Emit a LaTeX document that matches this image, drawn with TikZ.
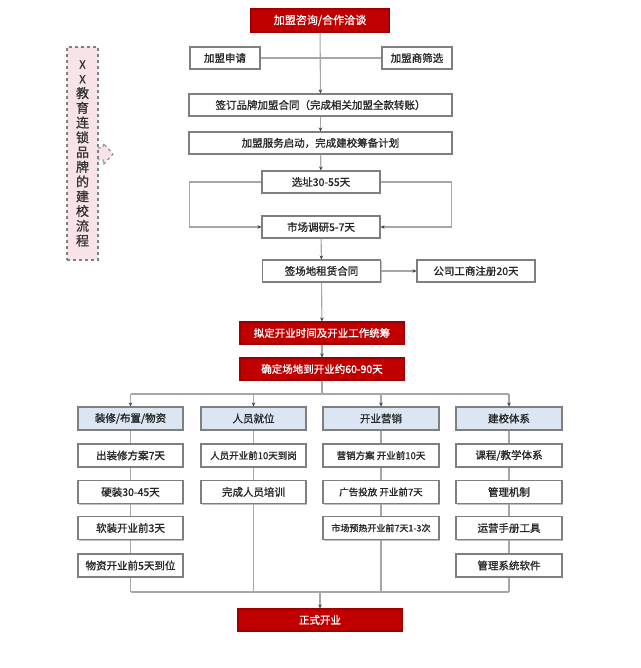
\documentclass[tikz,border=0pt]{standalone}
\usepackage{fontspec}
\setmainfont{Noto Sans CJK SC}[RawFeature={embolden=1.2}]
\usetikzlibrary{arrows.meta,shadows}
\definecolor{bred}{HTML}{C00000}
\definecolor{bredd}{HTML}{9E0000}
\definecolor{bgray}{HTML}{7F7F7F}
\definecolor{lgray}{HTML}{A6A6A6}
\definecolor{cblue}{HTML}{DCE6F2}
\definecolor{spink}{HTML}{F8E4E8}
\tikzset{
  x=1pt,y=-1pt,
  wbox/.style={draw=bgray,line width=1.1pt,fill=white,minimum height=22pt,inner sep=0pt,
     font=\fontsize{10.5}{12}\selectfont,text=black!85,
     drop shadow={shadow xshift=1pt,shadow yshift=-1pt,opacity=0.25,fill=black}},
  rbox/.style={wbox,draw=bredd,fill=bred,text=white},
  cbox/.style={wbox,fill=cblue,minimum height=23pt},
  conn/.style={draw=lgray,line width=1.1pt},
  arr/.style={conn,-{Stealth[length=4pt,width=3.5pt,color=black!75]}},
}
\begin{document}
\begin{tikzpicture}
\useasboundingbox (0,0) rectangle (640,668);
% side box
\draw[draw=bgray,dashed,line width=1pt,fill=spink]
  (98,148) -- (103,148) -- (103,143) -- (113,154) -- (103,165) -- (103,160) -- (98,160);
\node[draw=bgray,dashed,line width=1.1pt,fill=spink,minimum width=31pt,minimum height=213pt,inner sep=0pt,
  align=center,font=\fontsize{13}{14.75}\selectfont,text=black!80] (side) at (82.5,153.5)
  {{\fontsize{11}{14.75}\selectfont X}\\{\fontsize{11}{14.75}\selectfont X}\\教\\育\\连\\锁\\品\\牌\\的\\建\\校\\流\\程};
% top part
\node[rbox,minimum width=138pt,minimum height=23pt,font=\fontsize{11}{13}\selectfont] (top) at (320,20.5) {加盟咨询/合作洽谈};
\node[wbox,minimum width=70pt] (apply) at (225,58) {加盟申请};
\node[wbox,minimum width=70pt] (screen) at (417,58) {加盟商筛选};
\node[wbox,minimum width=263pt] (sign) at (320.5,105) {签订品牌加盟合同（完成相关加盟全款转账）};
\node[wbox,minimum width=263pt] (start) at (320.5,143) {加盟服务启动，完成建校筹备计划};
\node[wbox,minimum width=118pt] (site) at (321,182) {选址30-55天};
\node[wbox,minimum width=118pt] (survey) at (321,227) {市场调研5-7天};
\node[wbox,minimum width=118pt] (lease) at (321.5,271) {签场地租赁合同};
\node[wbox,minimum width=118pt] (reg) at (476,271) {公司工商注册20天};
\node[rbox,minimum width=164pt] (plan) at (322,333) {拟定开业时间及开业工作统筹};
\node[rbox,minimum width=164pt] (confirm) at (322,369) {确定场地到开业约60-90天};
% columns
\node[cbox,minimum width=105pt] (c1) at (130.5,418.5) {装修/布置/物资};
\node[cbox,minimum width=105pt] (c2) at (253.5,418.5) {人员就位};
\node[cbox,minimum width=116pt] (c3) at (381,418.5) {开业营销};
\node[cbox,minimum width=106pt] (c4) at (509,418.5) {建校体系};
\node[wbox,minimum width=105pt,minimum height=23pt] (a1) at (130.5,455.5) {出装修方案7天};
\node[wbox,minimum width=105pt,minimum height=23pt] (a2) at (130.5,492) {硬装30-45天};
\node[wbox,minimum width=105pt,minimum height=23pt] (a3) at (130.5,528) {软装开业前3天};
\node[wbox,minimum width=105pt,minimum height=23pt] (a4) at (130.5,565.5) {物资开业前5天到位};
\node[wbox,minimum width=105pt,minimum height=23pt,font=\fontsize{9.5}{11}\selectfont] (b1) at (253.5,455.5) {人员开业前10天到岗};
\node[wbox,minimum width=105pt,minimum height=23pt] (b2) at (253.5,492) {完成人员培训};
\node[wbox,minimum width=116pt,minimum height=23pt,font=\fontsize{9.5}{11}\selectfont] (d1) at (381,455.5) {营销方案 开业前10天};
\node[wbox,minimum width=116pt,minimum height=23pt,font=\fontsize{9.5}{11}\selectfont] (d2) at (381,492) {广告投放 开业前7天};
\node[wbox,minimum width=116pt,minimum height=23pt,font=\fontsize{9}{11}\selectfont] (d3) at (381,528) {市场预热开业前7天1-3次};
\node[wbox,minimum width=106pt,minimum height=23pt] (e1) at (509,455.5) {课程/教学体系};
\node[wbox,minimum width=106pt,minimum height=23pt] (e2) at (509,492) {管理机制};
\node[wbox,minimum width=106pt,minimum height=23pt] (e3) at (509,528) {运营手册工具};
\node[wbox,minimum width=106pt,minimum height=23pt] (e4) at (509,565.5) {管理系统软件};
\node[rbox,minimum width=164pt] (open) at (320,620) {正式开业};
% bus coordinates
\coordinate (bt) at (322,394);
\coordinate (btl) at (130.5,394);
\coordinate (btr) at (509,394);
\coordinate (bb) at (320,592);
\coordinate (bbl) at (130.5,592);
\coordinate (bbr) at (509,592);
% connectors
\draw[conn] (apply) -- (screen);
\draw[arr] (top) -- (sign);
\draw[arr] (sign) -- (start);
\draw[arr] (start) -- (site);
\draw[arr] (site.west) -- ++(-72,0) |- (survey.west);
\draw[arr] (site.east) -- ++(71,0) |- (survey.east);
\draw[arr] (survey) -- (lease);
\draw[arr] (lease) -- (reg);
\draw[arr] (lease) -- (plan);
\draw[arr] (plan) -- (confirm);
\draw[conn] (confirm) -- (bt);
\draw[conn] (btl) -- (btr);
\draw[arr] (btl) -- (c1);
\draw[arr] (c2 |- bt) -- (c2);
\draw[arr] (c3 |- bt) -- (c3);
\draw[arr] (btr) -- (c4);
\draw[conn] (c1) -- (a1);
\draw[conn] (a1) -- (a2);
\draw[conn] (a2) -- (a3);
\draw[conn] (a3) -- (a4);
\draw[conn] (a4) -- (bbl);
\draw[conn] (c2) -- (b1);
\draw[conn] (b1) -- (b2);
\draw[conn] (b2) -- (b2 |- bb);
\draw[conn] (c3) -- (d1);
\draw[conn] (d1) -- (d2);
\draw[conn] (d2) -- (d3);
\draw[conn] (d3) -- (d3 |- bb);
\draw[conn] (c4) -- (e1);
\draw[conn] (e1) -- (e2);
\draw[conn] (e2) -- (e3);
\draw[conn] (e3) -- (e4);
\draw[conn] (e4) -- (bbr);
\draw[conn] (bbl) -- (bbr);
\draw[arr] (bb) -- (open);
\end{tikzpicture}
\end{document}
